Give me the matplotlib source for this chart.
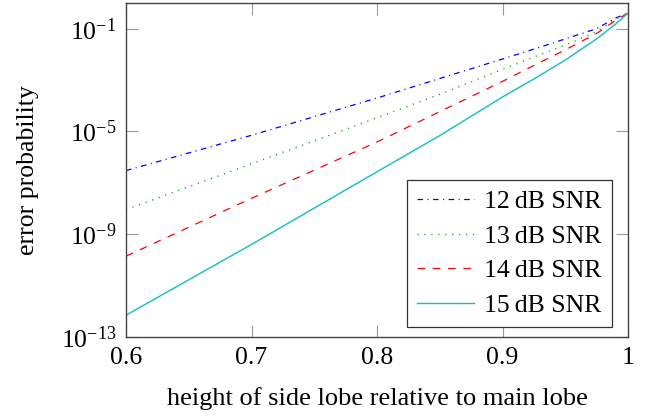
import matplotlib
matplotlib.use("Agg")
import matplotlib.pyplot as plt

# DATA
height = [0.6, 0.7, 0.8, 0.85, 0.9, 0.925, 0.95, 0.975, 0.99, 1.0]

p_12db = [3.0e-7, 7.1e-6, 2.0e-4, 1.15e-3, 6.6e-3, 1.6e-2, 4.0e-2, 1.0e-1, 2.6e-1, 0.40]
p_13db = [9.1e-9, 5.5e-7, 3.4e-5, 2.8e-4, 2.6e-3, 7.9e-3, 2.3e-2, 7.6e-2, 2.3e-1, 0.40]
p_14db = [1.4e-10, 2.5e-8, 3.9e-6, 5.9e-5, 8.9e-4, 3.7e-3, 1.5e-2, 6.5e-2, 2.1e-1, 0.40]
p_15db = [7.1e-13, 4.0e-10, 2.7e-7, 6.9e-6, 2.2e-4, 1.1e-3, 6.0e-3, 4.0e-2, 1.5e-1, 0.40]

labels = ["12\u2009dB SNR", "13\u2009dB SNR", "14\u2009dB SNR", "15\u2009dB SNR"]

x_ticks = [0.6, 0.7, 0.8, 0.9, 1.0]
x_ticklabels = ["0.6", "0.7", "0.8", "0.9", "1"]
y_ticks = [1e-13, 1e-9, 1e-5, 1e-1]

# STYLE
plt.rcParams["font.family"] = ["Liberation Serif", "DejaVu Serif"]
plt.rcParams["mathtext.fontset"] = "stix"
plt.rcParams["lines.scale_dashes"] = False
fs = 18.5

fig = plt.figure(figsize=(6.52, 4.2), dpi=100)
ax = fig.add_axes([0.1933, 0.1976, 0.7699, 0.7953])

ax.plot(height, p_12db, color="#0000ff", lw=0.9, dashes=(4, 3.2, 0.8, 3.2), label=labels[0])
ax.plot(height, p_13db, color="#109a10", lw=1.0, dashes=(0.8, 4.2), label=labels[1])
ax.plot(height, p_14db, color="#ff0000", lw=0.9, dashes=(5.5, 5.5), label=labels[2])
ax.plot(height, p_15db, color="#10c0c0", lw=1.0, label=labels[3])

ax.set_yscale("log")
ax.set_xlim(0.6, 1.0)
ax.set_ylim(1e-13, 1.0)
ax.set_xticks(x_ticks)
ax.set_xticklabels(x_ticklabels)
ax.set_yticks(y_ticks)
ax.minorticks_off()

ax.tick_params(direction="in", length=8.5, width=0.8, color="#999999",
               top=True, right=True, labelsize=fs, pad=7)

for s in ax.spines.values():
    s.set_color("#444444")
    s.set_linewidth(1.0)

ax.set_xlabel("height of side lobe relative to main lobe", fontsize=fs + 0.5, labelpad=13)
ax.set_ylabel("error probability", fontsize=fs, labelpad=16)

leg = ax.legend(loc="upper right", bbox_to_anchor=(0.968, 0.470),
                fancybox=False, framealpha=1, edgecolor="#333333",
                handlelength=2.2, handletextpad=0.4, labelspacing=0.45,
                borderpad=0.4, borderaxespad=0, fontsize=fs)
leg.get_frame().set_linewidth(0.9)

plt.savefig("out.png", dpi=100)
